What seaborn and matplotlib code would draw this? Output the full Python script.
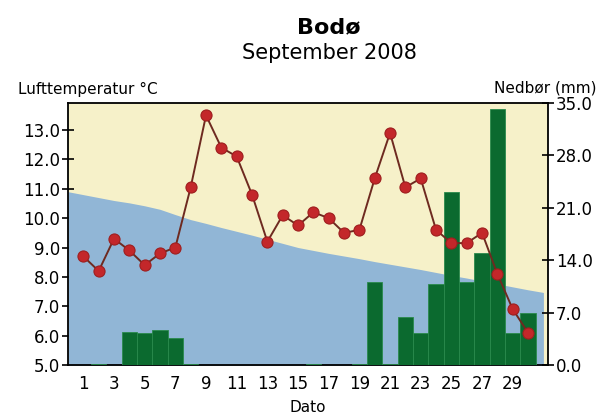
import numpy as np
import pandas as pd
import matplotlib
matplotlib.use("Agg")
import matplotlib.pyplot as plt
import seaborn as sns

# -----------------------------------------------------
# DATA
# -----------------------------------------------------
days = list(range(1, 31))
temperature = [8.7, 8.2, 9.3, 8.9, 8.4, 8.8, 9.0, 11.05, 13.5, 12.4,
               12.1, 10.8, 9.2, 10.1, 9.75, 10.2, 10.0, 9.5, 9.6, 11.35,
               12.9, 11.05, 11.35, 9.6, 9.15, 9.15, 9.5, 8.1, 6.9, 6.1]
precip = [0.0, 0.2, 0.0, 4.4, 4.3, 4.7, 3.6, 0.2, 0.0, 0.0,
          0.0, 0.0, 0.0, 0.0, 0.0, 0.1, 0.0, 0.0, 0.1, 11.1,
          0.2, 6.4, 4.3, 10.8, 23.1, 11.1, 15.0, 34.2, 4.3, 7.0]
# normal temperature (background band), days 0..31
normal_days = list(range(0, 32))
normal_temp = [10.90, 10.80, 10.70, 10.60, 10.52, 10.42, 10.30, 10.12, 9.95, 9.82,
               9.68, 9.55, 9.42, 9.28, 9.14, 9.00, 8.90, 8.80, 8.71, 8.62,
               8.52, 8.43, 8.34, 8.25, 8.15, 8.05, 7.96, 7.86, 7.76, 7.66,
               7.56, 7.47]
temp_ticks = [5.0, 6.0, 7.0, 8.0, 9.0, 10.0, 11.0, 12.0, 13.0]
precip_ticks = [0.0, 7.0, 14.0, 21.0, 28.0, 35.0]
day_ticks = list(range(1, 30, 2))

df = pd.DataFrame({"day": days, "temp": temperature, "precip": precip})

# -----------------------------------------------------
sns.set_style("white")
plt.rcParams["font.family"] = ["DejaVu Sans"]
plt.rcParams["text.color"] = "black"
plt.rcParams["xtick.color"] = "black"
plt.rcParams["ytick.color"] = "black"
plt.rcParams["xtick.labelcolor"] = "black"
plt.rcParams["ytick.labelcolor"] = "black"

CREAM = "#f6f1c9"
BLUE = "#91b6d6"
GREEN = "#0b6a2f"
RED = "#c3272a"

fig = plt.figure(figsize=(6.05, 4.18), dpi=100)
ax = fig.add_axes([68 / 605, 1 - 365 / 418, (548 - 68) / 605, (365 - 103) / 418])
ax.set_facecolor(CREAM)

# background: normal temperature band
ax.fill_between(normal_days, 0, normal_temp, color=BLUE, lw=0, zorder=1)
ax.set_xlim(0, 31.3)
ax.set_ylim(5.0, 13.92)
ax.set_yticks(temp_ticks)
ax.set_yticklabels([f"{t:.1f}" for t in temp_ticks])
ax.set_xticks(day_ticks)
ax.set_xticklabels([str(d) for d in day_ticks])

# precipitation bars (right axis)
ax_bar = ax.twinx()
sns.barplot(data=df, x="day", y="precip", native_scale=True, width=1.0,
            color=GREEN, saturation=1, edgecolor="#2a8a4c", linewidth=0.6,
            ax=ax_bar, zorder=2)
ax_bar.set_xlim(0, 31.3)
ax_bar.set_ylim(0, 35)
ax_bar.set_yticks(precip_ticks)
ax_bar.set_yticklabels([f"{t:.1f}" for t in precip_ticks])

# temperature line on top
ax_line = ax.twinx()
sns.lineplot(data=df, x="day", y="temp", ax=ax_line, color="#6e2a20", lw=1.4,
             marker="o", markersize=8, markerfacecolor=RED,
             markeredgecolor="#9e1f1f", markeredgewidth=0.8, zorder=3)
ax_line.set_xlim(0, 31.3)
ax_line.set_ylim(5.0, 13.92)
ax_line.set_yticks([])
ax_line.axis("off")

for a in (ax, ax_bar):
    a.set_xlabel("")
    a.set_ylabel("")
    for s in a.spines.values():
        s.set_color("black")
        s.set_linewidth(1.3)

ax.tick_params(axis="both", direction="inout", length=9, width=1.2,
               labelsize=12, pad=1, color="black")
ax_bar.tick_params(axis="y", direction="inout", length=9, width=1.2,
                   labelsize=12, pad=1, color="black")
ax.tick_params(axis="x", pad=3)
ax.spines["right"].set_visible(False)
ax_bar.spines["left"].set_visible(False)
ax_bar.spines["bottom"].set_visible(False)
ax_bar.spines["top"].set_visible(False)

# texts
fig.text(329 / 605, 1 - 27 / 418, "Bodø", ha="center", va="center",
         fontsize=16, fontweight="bold", color="black")
fig.text(329 / 605, 1 - 53 / 418, "September 2008", ha="center", va="center",
         fontsize=15, color="black")
fig.text(18 / 605, 1 - 89 / 418, "Lufttemperatur °C", ha="left", va="center",
         fontsize=11, color="black")
fig.text(597 / 605, 1 - 88 / 418, "Nedbør (mm)", ha="right", va="center",
         fontsize=11, color="black")
fig.text(308 / 605, 1 - 408 / 418, "Dato", ha="center", va="center",
         fontsize=11, color="black")

fig.savefig("out.png", dpi=100)
